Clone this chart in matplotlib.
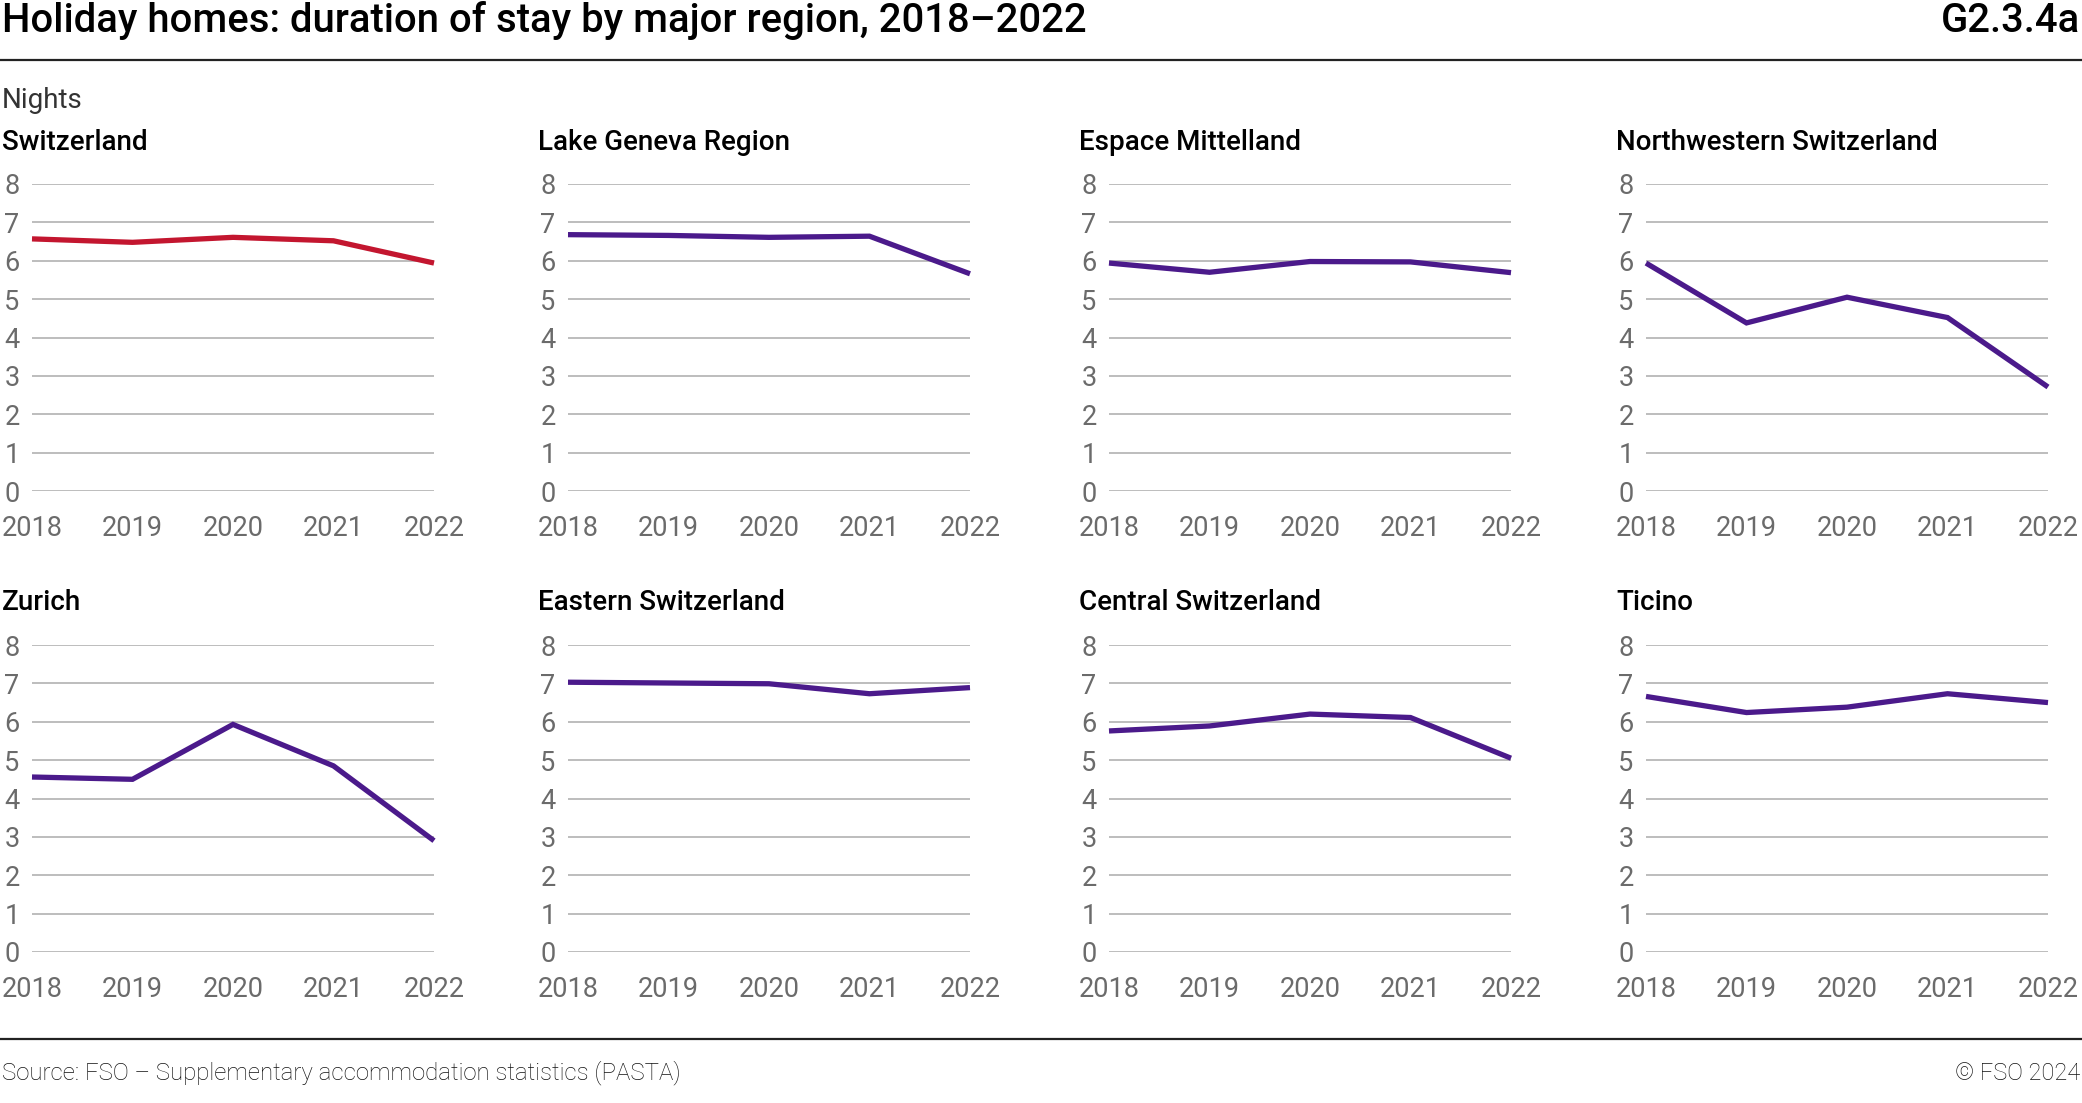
import matplotlib
matplotlib.use("Agg")
import matplotlib.pyplot as plt

# --- data ---
years = [2018, 2019, 2020, 2021, 2022]
regions = [
    "Switzerland", "Lake Geneva Region", "Espace Mittelland", "Northwestern Switzerland",
    "Zurich", "Eastern Switzerland", "Central Switzerland", "Ticino",
]
switzerland = [6.57, 6.48, 6.61, 6.52, 5.94]
lake_geneva = [6.68, 6.66, 6.61, 6.64, 5.66]
espace_mittelland = [5.94, 5.70, 5.98, 5.97, 5.69]
northwestern = [5.94, 4.38, 5.05, 4.52, 2.71]
zurich = [4.56, 4.50, 5.93, 4.85, 2.90]
eastern = [7.03, 7.01, 6.99, 6.73, 6.89]
central = [5.76, 5.89, 6.20, 6.11, 5.05]
ticino = [6.66, 6.24, 6.38, 6.73, 6.50]
series = [switzerland, lake_geneva, espace_mittelland, northwestern,
          zurich, eastern, central, ticino]
y_ticks = [0, 1, 2, 3, 4, 5, 6, 7, 8]

RED = "#C3162F"
PURPLE = "#4B1A8B"
GRID = "#b8b8b8"
TICK = "#6b6b6b"

plt.rcParams["font.family"] = ["Roboto", "DejaVu Sans"]

W, H = 2082, 1103
fig = plt.figure(figsize=(W / 100, H / 100), dpi=100)

col_left = [32, 568, 1109, 1646]
col_right = [434, 970, 1511, 2048]
row_top = [184, 645]
row_bot = [491, 952]

for i, (name, vals) in enumerate(zip(regions, series)):
    r, c = divmod(i, 4)
    x0, x1 = col_left[c], col_right[c]
    yt, yb = row_top[r], row_bot[r]
    ax = fig.add_axes([x0 / W, 1 - yb / H, (x1 - x0) / W, (yb - yt) / H])
    color = RED if i == 0 else PURPLE
    ax.plot(years, vals, color=color, lw=3.8, solid_capstyle="butt",
            solid_joinstyle="miter", clip_on=False, zorder=3)
    ax.set_xlim(years[0], years[-1])
    ax.set_ylim(0, 8)
    ax.set_yticks(y_ticks)
    ax.set_xticks(years)
    ax.set_xticklabels([str(y) for y in years])
    for y in y_ticks:
        ax.axhline(y, color=GRID, lw=1.3, zorder=1)
    for s in ax.spines.values():
        s.set_visible(False)
    ax.tick_params(axis="both", length=0, labelsize=19.5, labelcolor=TICK)
    ax.tick_params(axis="y", pad=9)
    ax.tick_params(axis="x", pad=17)
    fig.text((x0 - 30) / W, 1 - (yt - 42) / H, name, fontsize=20,
             fontweight="medium", color="black", ha="left", va="center")

# header and footer
fig.text(2 / W, 1 - 21 / H, "Holiday homes: duration of stay by major region, 2018\u20132022",
         fontsize=28.8, color="black", ha="left", va="center", fontweight="medium")
fig.text(2080 / W, 1 - 21 / H, "G2.3.4a", fontsize=28.8, color="black",
         ha="right", va="center", fontweight="medium")
fig.add_artist(plt.Line2D([0, 1], [1 - 60 / H, 1 - 60 / H], color="#222222", lw=1.6))
fig.text(2 / W, 1 - 101 / H, "Nights", fontsize=20, fontweight="normal",
         color="#333333", ha="left", va="center")
fig.add_artist(plt.Line2D([0, 1], [1 - 1039 / H, 1 - 1039 / H], color="#222222", lw=1.6))
fig.text(2 / W, 1 - 1073 / H, "Source: FSO \u2013 Supplementary accommodation statistics (PASTA)",
         fontsize=17.3, fontweight="light", color="#111111", ha="left", va="center")
fig.text(2080 / W, 1 - 1073 / H, "\u00a9 FSO 2024", fontsize=17, fontweight="light",
         color="#111111", ha="right", va="center")

fig.savefig("out.png", dpi=100)
